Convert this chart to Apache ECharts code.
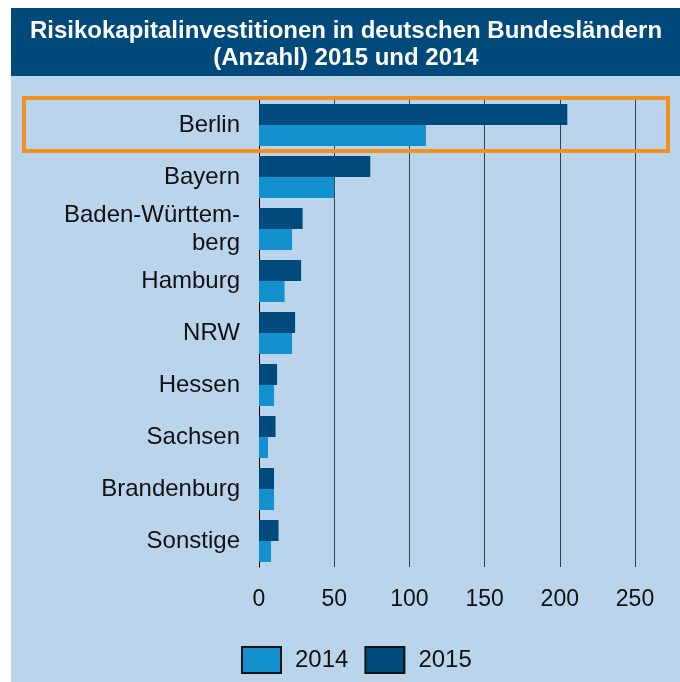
<!DOCTYPE html>
<html>
<head>
<meta charset="utf-8">
<script src="https://cdn.jsdelivr.net/npm/echarts@6/dist/echarts.min.js"></script>
<style>
  html, body { margin: 0; padding: 0; background: #fff; }
  #chart { width: 680px; height: 682px; }
</style>
</head>
<body>
<div id="chart"></div>
<script>
// Bundesländer (von oben nach unten)
const regions = ['Berlin', 'Bayern', 'Baden-Württem-\nberg', 'Hamburg', 'NRW', 'Hessen', 'Sachsen', 'Brandenburg', 'Sonstige'];
// Anzahl Investitionen
const values2015 = [205, 74, 29, 28, 24, 12, 11, 10, 13];
const values2014 = [111, 50, 22, 17, 22, 10, 6, 10, 8];
const xTicks = [0, 50, 100, 150, 200, 250];

const dark = '#004B7C';
const light = '#1391CF';
const font = '"Liberation Sans", Arial, sans-serif';

const myChart = echarts.init(document.getElementById('chart'));
myChart.setOption({
  animation: false,
  backgroundColor: '#fff',
  graphic: [
    // Hintergrund
    { type: 'rect', z: -10, shape: { x: 11, y: 8, width: 669, height: 674 }, style: { fill: '#BAD4EC' } },
    // Kopfzeile
    { type: 'rect', z: -9, shape: { x: 11, y: 8, width: 669, height: 68 }, style: { fill: '#004A7B' } },
    {
      type: 'text', x: 346, y: 18, z: 10,
      style: {
        text: 'Risikokapitalinvestitionen in deutschen Bundesländern\n(Anzahl) 2015 und 2014',
        fill: '#fff', font: 'bold 24px ' + font, textAlign: 'center', lineHeight: 27
      }
    },
    // Markierung Berlin
    { type: 'rect', z: 20, shape: { x: 24, y: 98, width: 644, height: 53 }, style: { fill: 'none', stroke: '#F39020', lineWidth: 4 } }
  ],
  legend: {
    data: ['2014', '2015'],
    left: 236,
    top: 641,
    itemWidth: 39,
    itemHeight: 26,
    itemGap: 16,
    icon: 'rect',
    itemStyle: { borderColor: '#111', borderWidth: 2 },
    textStyle: { fontFamily: font, fontSize: 24, color: '#111', padding: [0, 0, 0, 9] }
  },
  grid: { left: 259, right: 45, top: 99, bottom: 115 },
  xAxis: {
    type: 'value',
    min: 0,
    max: 250,
    interval: 50,
    axisLine: { show: false },
    axisTick: { show: false },
    axisLabel: {
      margin: 21, fontFamily: font, fontSize: 23, color: '#111',
      formatter: v => xTicks.includes(v) ? String(v) : ''
    },
    splitLine: { show: true, lineStyle: { color: '#3a4048', width: 1 } }
  },
  yAxis: {
    type: 'category',
    data: regions,
    inverse: true,
    axisLine: { show: true, lineStyle: { color: '#000', width: 1 } },
    axisTick: { show: false },
    axisLabel: { margin: 19, fontFamily: font, fontSize: 24, color: '#111', lineHeight: 28, align: 'right', padding: [4, 0, 0, 0] }
  },
  series: [
    {
      name: '2015', type: 'bar', data: values2015,
      barWidth: 21, barGap: '0%', barCategoryGap: '19%',
      itemStyle: { color: dark }
    },
    {
      name: '2014', type: 'bar', data: values2014,
      barWidth: 21,
      itemStyle: { color: light }
    }
  ]
});
</script>
</body>
</html>
